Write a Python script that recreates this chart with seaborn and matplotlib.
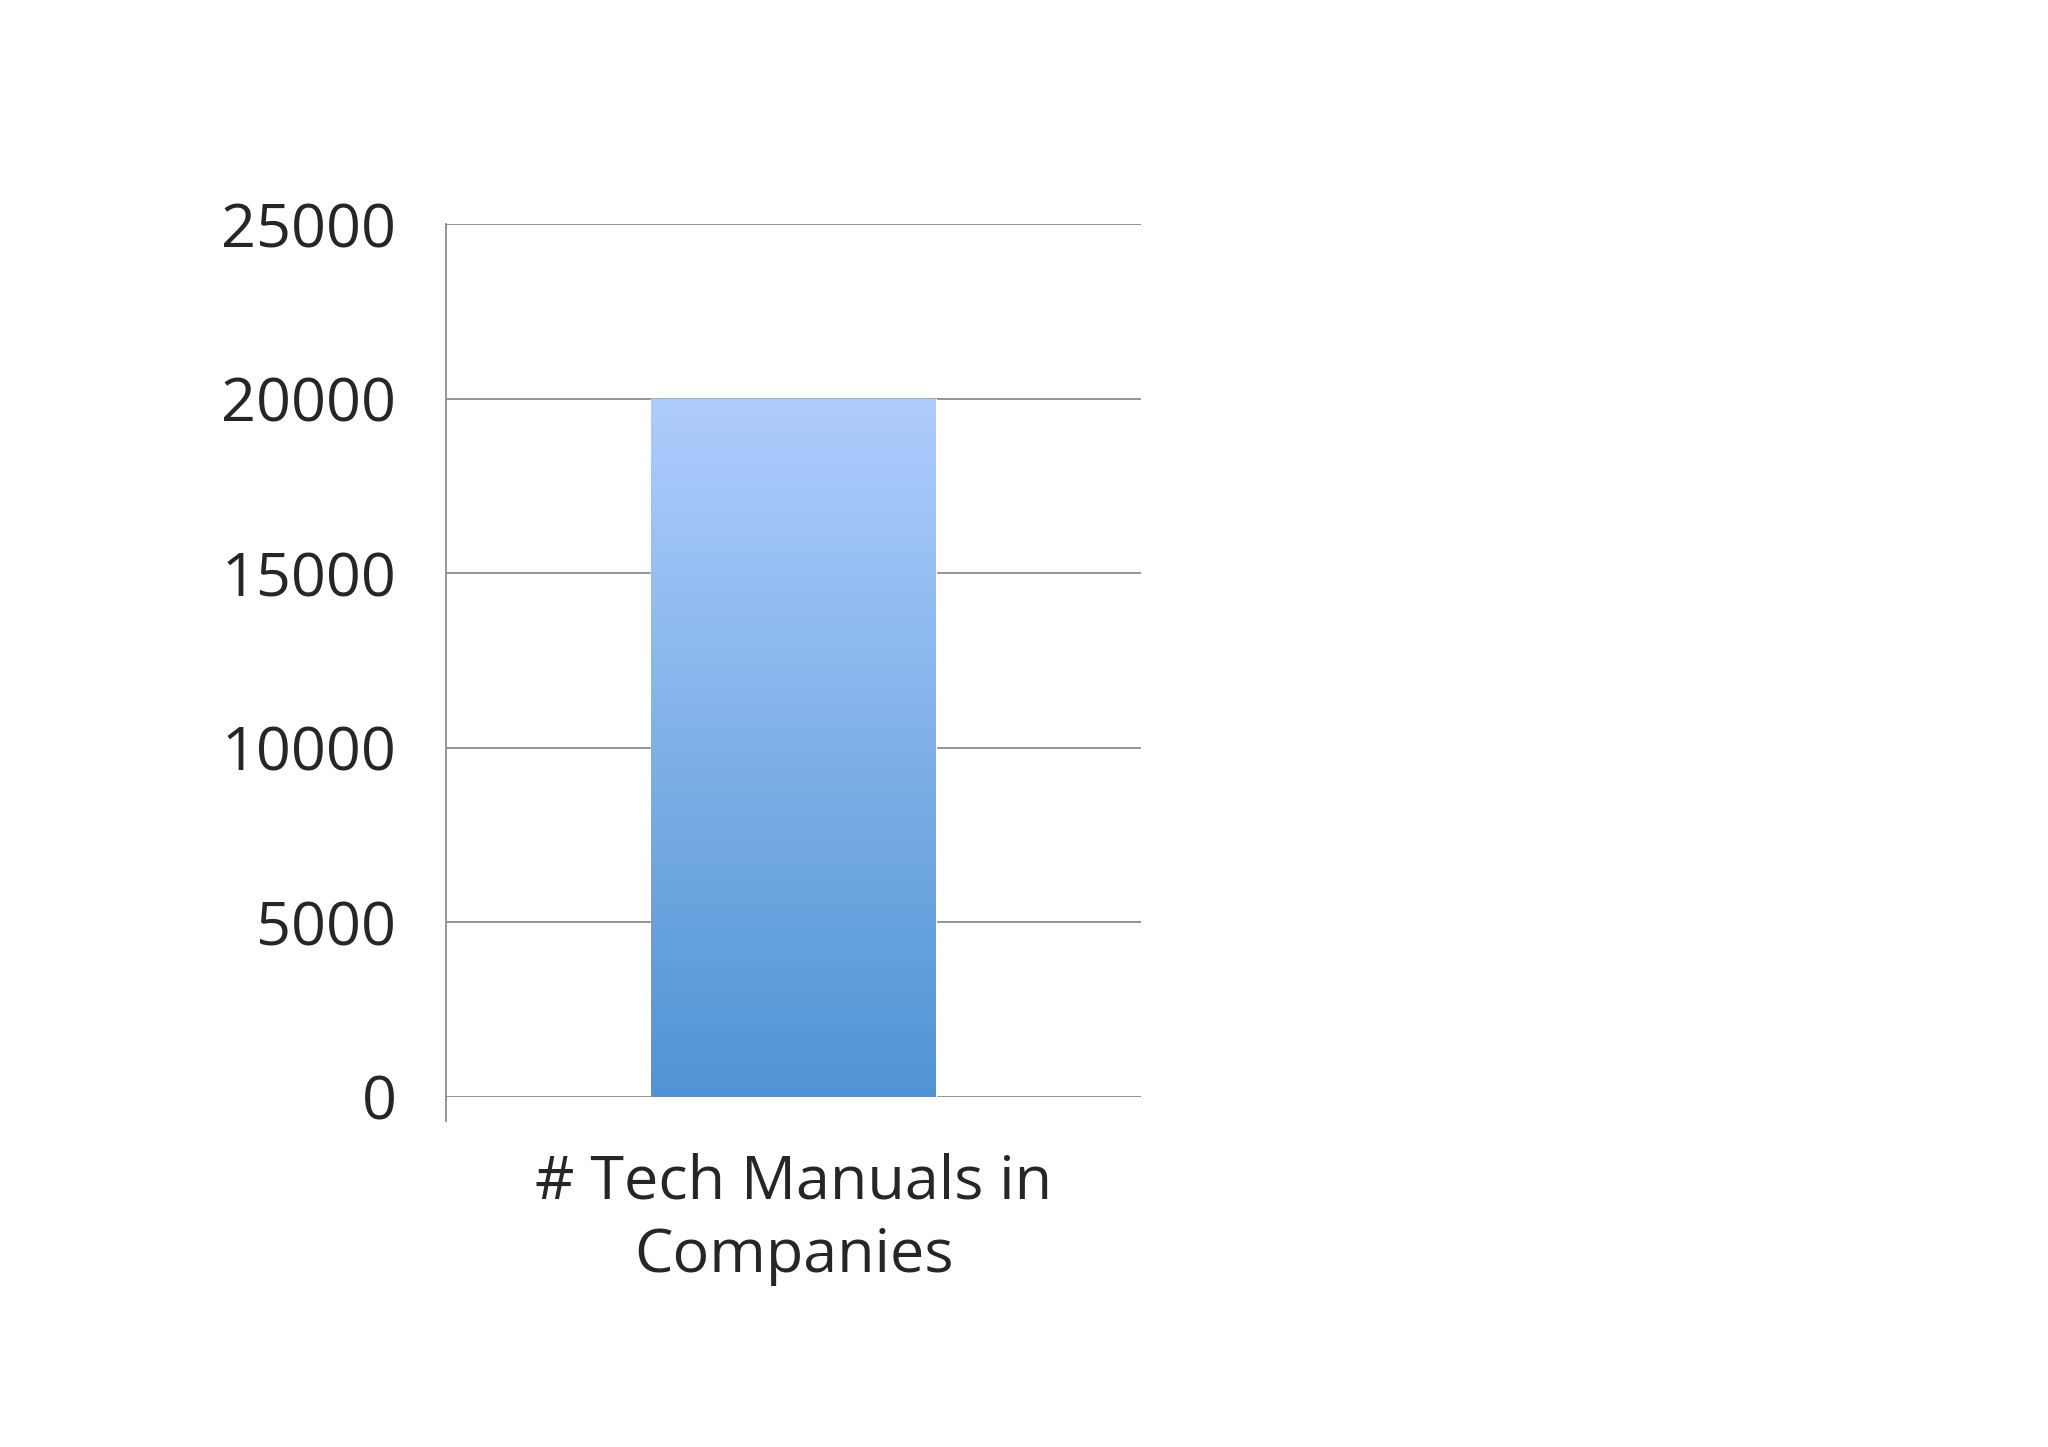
import numpy as np
import pandas as pd
import matplotlib
matplotlib.use("Agg")
import matplotlib.pyplot as plt
from matplotlib.colors import LinearSegmentedColormap
import seaborn as sns

categories = ["# Tech Manuals in\nCompanies"]
values = [20000]
yticks = [0, 5000, 10000, 15000, 20000, 25000]

sns.set_style("white")
plt.rcParams['font.family'] = ['Open Sans', 'DejaVu Sans']

fig = plt.figure(figsize=(20.48, 14.47), dpi=100)
ax = fig.add_axes([0.218, 0.242, 0.339, 0.603])

df = pd.DataFrame({"cat": categories, "val": values})
sns.barplot(data=df, x="cat", y="val", ax=ax, width=0.41, color="#5b9bd5", zorder=2)

# vertical gradient fill on the bar
cmap = LinearSegmentedColormap.from_list("g", ["#4f94d4", "#afcdfd"])
grad = np.linspace(0, 1, 256).reshape(-1, 1)
for p in ax.patches:
    x0, y0 = p.get_x(), p.get_y()
    w, h = p.get_width(), p.get_height()
    im = ax.imshow(grad, cmap=cmap, origin="lower", aspect="auto",
                   extent=[x0, x0 + w, y0, y0 + h], zorder=3)
    im.set_clip_path(p)
ax.set_xlim(-0.5, 0.5)
ax.set_ylim(0, 25000)
ax.set_yticks(yticks)
ax.yaxis.grid(True, color="#8c8c8c", linewidth=1.3, zorder=0)
ax.set_axisbelow(True)

for s in ["top", "right", "bottom"]:
    ax.spines[s].set_visible(False)
ax.spines["left"].set_color("#8c8c8c")
ax.spines["left"].set_linewidth(1.3)
ax.spines["left"].set_bounds(-700, 25000)
ax.set_ylim(0, 25000)

ax.tick_params(axis="y", length=22, width=1.3, color="#8c8c8c", labelsize=44, pad=14)
ax.tick_params(axis="x", length=0, labelsize=44, pad=40)
ax.set_xlabel("")
ax.set_ylabel("")
for t in ax.get_xticklabels():
    t.set_linespacing(1.3)

fig.savefig("out.png", dpi=100, facecolor="white")
